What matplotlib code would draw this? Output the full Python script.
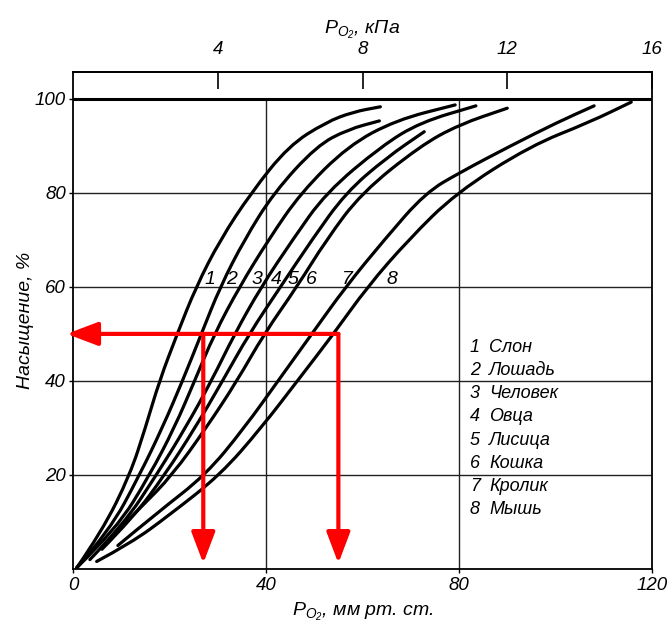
import matplotlib
matplotlib.use('Agg')
import matplotlib.pyplot as plt
from matplotlib.path import Path
from matplotlib.patches import PathPatch

plt.rcParams['font.family'] = ['Liberation Sans', 'DejaVu Sans']
plt.rcParams['font.style'] = 'italic'
plt.rcParams['mathtext.fontset'] = 'custom'
plt.rcParams['mathtext.it'] = 'Liberation Sans:italic'
plt.rcParams['mathtext.rm'] = 'Liberation Sans'
plt.rcParams['mathtext.default'] = 'it'

# ---------------- data ----------------
curve_ids = ['1', '2', '3', '4', '5', '6', '7', '8']
animal_names = ['Слон', 'Лошадь', 'Человек', 'Овца', 'Лисица', 'Кошка', 'Кролик', 'Мышь']

c1_p = [0.8, 6, 11.8, 15, 17.9, 21.6, 25.5, 30.5, 36.9, 44.7, 52.4, 58, 63.7]
c1_s = [0.3, 8, 20, 30, 40, 50, 60, 70, 80, 90, 95, 97.2, 98.3]
c2_p = [0.8, 7.5, 13.8, 18.5, 22.7, 26.6, 30.5, 35.5, 41.6, 50.5, 57, 63.5]
c2_s = [0.3, 8, 20, 30, 40, 50, 60, 70, 80, 90, 93.5, 95.3]
c3_p = [0.8, 9, 15.9, 21, 25.2, 29.3, 34.5, 40.5, 47.2, 57, 67, 79.2]
c3_s = [0.3, 8.5, 20, 30, 40, 50, 60, 70, 80, 90, 95.5, 98.7]
c4_p = [3.5, 10.5, 17.3, 23.3, 28.7, 33.5, 39, 45.5, 52.4, 64, 72, 83.5]
c4_s = [2, 9.5, 20, 30, 40, 50, 60, 70, 80, 90, 95, 98.5]
c5_p = [6, 12.5, 19, 25.3, 31, 36.5, 43, 49.5, 56.5, 65, 72.8]
c5_s = [4.2, 11, 20, 30, 40, 50, 60, 70, 80, 87.5, 93]
c6_p = [8, 14, 20.6, 27.6, 34, 39.6, 46.4, 52.5, 59.8, 72, 80, 90]
c6_s = [7, 13, 20, 30, 40, 50, 60, 70, 80, 90, 94.5, 98]
c7_p = [9.3, 17.5, 27.5, 35.5, 42.5, 49.5, 56.5, 64.5, 73, 80.5, 90.7, 100.4, 108]
c7_s = [5, 12, 20, 30, 40, 50, 60, 70, 80, 84.5, 90, 95, 98.5]
c8_p = [4.9, 12, 20, 30.5, 39, 46.5, 54, 61, 69.5, 79.4, 94.8, 107, 115.7]
c8_s = [1.6, 5.5, 11.5, 20, 30, 40, 50, 60, 70, 80, 90, 95, 99.3]

curves_p = [c1_p, c2_p, c3_p, c4_p, c5_p, c6_p, c7_p, c8_p]
curves_s = [c1_s, c2_s, c3_s, c4_s, c5_s, c6_s, c7_s, c8_s]

label_x = [28.4, 32.9, 38.1, 42.1, 45.6, 49.5, 56.8, 66.1]
label_y = 61.5

arrow_level = 50
p50_marks = [27, 55]

x_ticks = [0, 40, 80, 120]
y_ticks = [20, 40, 60, 80, 100]
kpa_ticks = [4, 8, 12, 16]
MMHG_PER_KPA = 7.5

# ---------------- figure ----------------
fig = plt.figure(figsize=(6.71, 6.34), dpi=100)
ax = fig.add_axes([73 / 671, 65 / 634, 579 / 671, 497 / 634])
ax.set_xlim(0, 120)
ax.set_ylim(0, 105.7)

for sp in ax.spines.values():
    sp.set_linewidth(1.3)
    sp.set_color('black')

for yv in [20, 40, 60, 80]:
    ax.plot([0, 120], [yv, yv], color='#222222', lw=1.0, zorder=1)
for xv in [40, 80]:
    ax.plot([xv, xv], [0, 100], color='#222222', lw=1.0, zorder=1)
ax.plot([0, 120], [100, 100], color='black', lw=2.2, zorder=2)


def smooth_path(px, py):
    """Quadratic B-spline style path through the read points (drawn by matplotlib)."""
    pts = list(zip(px, py))
    verts = [pts[0]]
    codes = [Path.MOVETO]
    for i in range(1, len(pts) - 1):
        mid = ((pts[i][0] + pts[i + 1][0]) / 2, (pts[i][1] + pts[i + 1][1]) / 2)
        verts += [pts[i], mid]
        codes += [Path.CURVE3, Path.CURVE3]
    verts.append(pts[-1])
    codes.append(Path.LINETO)
    return Path(verts, codes)


for p, s in zip(curves_p, curves_s):
    ax.add_patch(PathPatch(smooth_path(p, s), facecolor='none', edgecolor='black',
                           lw=2.3, capstyle='round', joinstyle='round', zorder=3))

for cid, lx in zip(curve_ids, label_x):
    ax.text(lx, label_y, cid, fontsize=14, ha='center', va='center', zorder=4)

for i, (cid, name) in enumerate(zip(curve_ids, animal_names)):
    yy = 47.2 - 4.95 * i
    ax.text(83.3, yy, cid, fontsize=13, ha='center', va='center')
    ax.text(86.3, yy, name, fontsize=13, ha='left', va='center')

red = '#ff0000'
astyle = dict(arrowstyle='-|>,head_length=0.95,head_width=0.36', color=red,
              lw=3, shrinkA=0, shrinkB=0, mutation_scale=20)
ax.annotate('', xy=(-1.3, arrow_level), xytext=(max(p50_marks), arrow_level),
            arrowprops=astyle, annotation_clip=False, zorder=6)
for pm in p50_marks:
    ax.annotate('', xy=(pm, 1.2), xytext=(pm, arrow_level),
                arrowprops=astyle, zorder=6)

ax.set_xticks(x_ticks)
ax.set_xticklabels([str(v) for v in x_ticks])
ax.set_yticks(y_ticks)
ax.set_yticklabels([str(v) for v in y_ticks])
ax.tick_params(axis='both', labelsize=13.5, length=3, width=1, direction='out')
ax.tick_params(axis='x', pad=3)
ax.tick_params(axis='y', pad=2)

ax.set_xlabel(r'$P_{\mathrm{O_2}}$, мм рт. ст.', fontsize=14, labelpad=5)
ax.set_ylabel('Насыщение, %', fontsize=14, labelpad=1)

sec = ax.secondary_xaxis('top', functions=(lambda v: v / MMHG_PER_KPA,
                                           lambda v: v * MMHG_PER_KPA))
sec.set_xticks(kpa_ticks)
sec.set_xticklabels([str(v) for v in kpa_ticks])
sec.tick_params(direction='in', length=12, width=1.2, labelsize=13.5, pad=10)
sec.spines['top'].set_linewidth(1.3)
sec.set_xlabel(r'$P_{\mathrm{O_2}}$, кПа', fontsize=14, labelpad=5)

fig.savefig('out.png', dpi=100)
